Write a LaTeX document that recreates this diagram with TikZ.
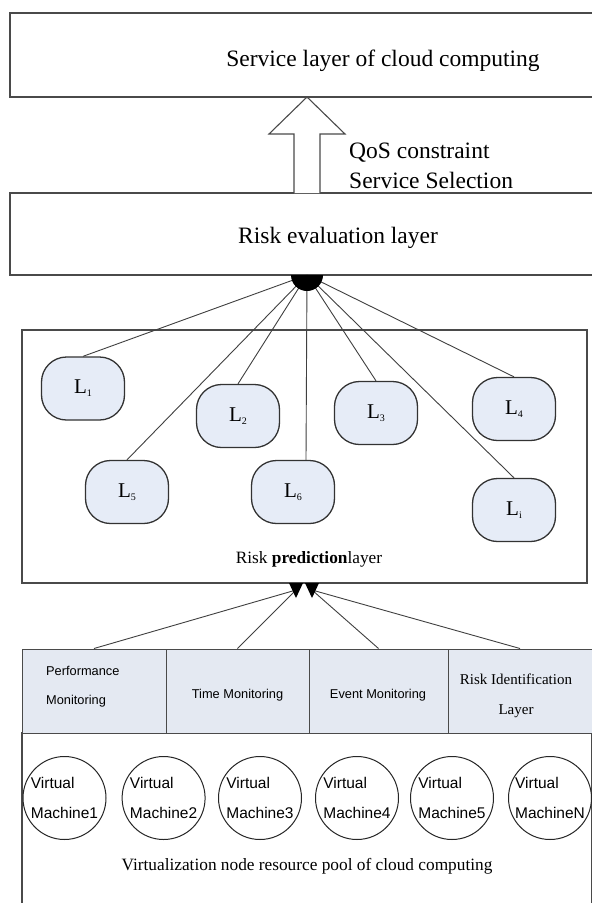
\documentclass[tikz,border=0pt]{standalone}
\usepackage{fontspec}
\setmainfont{Liberation Serif}
\setsansfont{Liberation Sans}
\usetikzlibrary{calc}
\definecolor{nodefill}{HTML}{E6ECF7}
\definecolor{monfill}{HTML}{E4E9F2}
\definecolor{edgegray}{HTML}{4A4A4A}
\newcommand\Lsub[1]{L\raisebox{-3pt}{\fontsize{10}{10}\selectfont #1}}
\tikzset{
  layerbox/.style={draw=edgegray, line width=1.2pt, rectangle, inner sep=0pt},
  lnode/.style={draw=black!80, line width=1.3pt, fill=nodefill, rounded corners=25pt,
    minimum width=83pt, minimum height=63pt, inner sep=0pt, font=\fontsize{21}{21}\selectfont},
  moncell/.style={draw=edgegray, line width=1pt, fill=monfill, minimum height=84pt, inner sep=0pt},
  vm/.style={circle, draw=black!85, line width=1pt, minimum size=83pt, inner sep=0pt,
    align=left, font=\fontsize{15.5}{30}\selectfont\sffamily},
  link/.style={draw=black!75, line width=0.9pt},
  bigtext/.style={font=\fontsize{23.5}{28}\selectfont, inner sep=0pt, anchor=base},
  midtext/.style={font=\fontsize{17.3}{20}\selectfont, inner sep=0pt, anchor=base},
  montext/.style={font=\fontsize{12.8}{14}\selectfont\sffamily, inner sep=0pt, anchor=base},
  idtext/.style={font=\fontsize{15}{18}\selectfont, inner sep=0pt, anchor=base},
}
\begin{document}
\begin{tikzpicture}[x=1pt,y=-1pt]
\clip (0,0) rectangle (592,903);
\fill[white] (0,0) rectangle (592,903);

% layer boxes
\node[layerbox, minimum width=586pt, minimum height=84pt] (top) at (303,55) {};
\node[layerbox, minimum width=586pt, minimum height=82pt] (eval) at (303,234) {};
\node[layerbox, minimum width=565pt, minimum height=253pt] (pred) at (304.5,456.5) {};
\node[layerbox, minimum width=570pt, minimum height=177pt] (pool) at (307,821.5) {};

% monitoring cells
\node[moncell, minimum width=144pt] (mon1) at (94,691) {};
\node[moncell, minimum width=143pt] (mon2) at (237.5,691) {};
\node[moncell, minimum width=139pt] (mon3) at (378.5,691) {};
\node[moncell, minimum width=144pt] (mon4) at (520,691) {};

% texts of layers
\node[bigtext] (t1) at (383,66) {Service layer of cloud computing};
\node[bigtext] (t2) at (338,243) {Risk evaluation layer};
\node[bigtext, anchor=base west] (q1) at (349,158) {QoS constraint};
\node[bigtext, anchor=base west] (q2) at (349,188) {Service Selection};
\node[midtext] (t3) at (309,563) {Risk \textbf{prediction}layer};
\node[midtext] (t4) at (307,870) {Virtualization node resource pool of cloud computing};

\node[montext, anchor=base west] (m1a) at (46,675) {Performance};
\node[montext, anchor=base west] (m1b) at (46,704) {Monitoring};
\node[montext] (m2) at (237.5,698) {Time Monitoring};
\node[montext] (m3) at (378,698) {Event Monitoring};
\node[idtext] (m4a) at (516,684) {Risk Identification};
\node[idtext] (m4b) at (516,714) {Layer};

% hollow block arrow
\coordinate (arrtip) at (307,97);
\coordinate (arrbase) at (307,193);
\draw[draw=edgegray, line width=1.1pt, fill=white]
  ($(arrbase)+(-13,0)$) -- ($(arrbase)+(-13,-59)$) -- ($(arrbase)+(-38,-59)$) -- (arrtip)
  -- ($(arrbase)+(38,-59)$) -- ($(arrbase)+(13,-59)$) -- ($(arrbase)+(13,0)$);

% L nodes
\node[lnode] (L1) at (83,388.5) {\Lsub{1}};
\node[lnode] (L2) at (238,416) {\Lsub{2}};
\node[lnode] (L3) at (376,413) {\Lsub{3}};
\node[lnode] (L4) at (514,409) {\Lsub{4}};
\node[lnode] (L5) at (127,492) {\Lsub{5}};
\node[lnode] (L6) at (293,492) {\Lsub{6}};
\node[lnode] (Li) at (514,510) {\Lsub{i}};

% hub and links to the evaluation layer
\coordinate (hub) at (307,275);
\draw[link] (L1.north) -- (hub);
\draw[link] (L2.north) -- (hub);
\draw[link] (L3.north) -- (hub);
\draw[link] (L4.north) -- (hub);
\draw[link] (L5.north) -- (hub);
\draw[link] (L6.north -| 306,0) -- (hub);
\draw[link] (Li.north) -- (hub);
\fill[black] ($(hub)+(-16,0)$) arc[start angle=180, end angle=0, x radius=16, y radius=16] -- cycle;

% links from monitoring to prediction layer
\coordinate (tipA) at (296,590);
\coordinate (tipB) at (312,590);
\draw[link] (mon1.north) -- (tipA);
\draw[link] (mon2.north) -- (tipA);
\draw[link] (mon3.north) -- (tipB);
\draw[link] (mon4.north) -- (tipB);
\fill[black] (289,583) -- (303,583) -- (296,598) -- cycle;
\fill[black] (305,583) -- (319,583) -- (312,598) -- cycle;

% virtual machines
\node[vm] (vm1) at (64.5,798) {Virtual\\Machine1};
\node[vm] (vm2) at (163.6,798) {Virtual\\Machine2};
\node[vm] (vm3) at (260,798) {Virtual\\Machine3};
\node[vm] (vm4) at (357,798) {Virtual\\Machine4};
\node[vm] (vm5) at (452,798) {Virtual\\Machine5};
\node[vm] (vmN) at (550,798) {Virtual\\MachineN};
\end{tikzpicture}
\end{document}
